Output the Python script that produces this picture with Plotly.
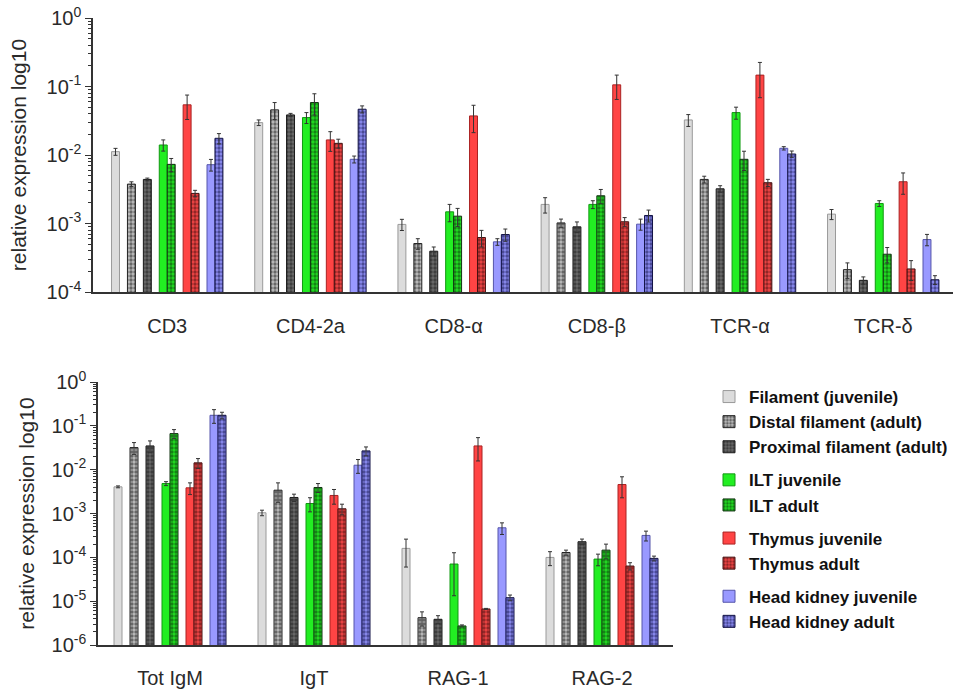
import plotly.graph_objects as go

# ---------------- data ----------------
top_genes = ["CD3", "CD4-2a", "CD8-α", "CD8-β", "TCR-α", "TCR-δ"]
bottom_genes = ["Tot IgM", "IgT", "RAG-1", "RAG-2"]

series_names = [
    "Filament (juvenile)", "Distal filament (adult)", "Proximal filament (adult)",
    "ILT juvenile", "ILT adult",
    "Thymus juvenile", "Thymus adult",
    "Head kidney juvenile", "Head kidney adult",
]
series_groups = ["fil", "fil", "fil", "ilt", "ilt", "thy", "thy", "hk", "hk"]

# top panel values (one list per series, in gene order)
top_filament_juv = [0.0112, 0.0297, 0.00097, 0.0019, 0.0325, 0.00137]
top_distal_adult = [0.00376, 0.0456, 0.00051, 0.00102, 0.0044, 0.000212]
top_proximal_adult = [0.0044, 0.0385, 0.000394, 0.000894, 0.00321, 0.000148]
top_ilt_juv = [0.014, 0.0352, 0.00148, 0.0019, 0.0416, 0.00196]
top_ilt_adult = [0.0073, 0.0583, 0.00128, 0.00254, 0.00865, 0.000356]
top_thymus_juv = [0.054, 0.0166, 0.0372, 0.1057, 0.1466, 0.00407]
top_thymus_adult = [0.00275, 0.0148, 0.000624, 0.00106, 0.00394, 0.000217]
top_hk_juv = [0.00722, 0.00865, 0.00054, 0.000978, 0.01253, 0.000583]
top_hk_adult = [0.01753, 0.0466, 0.00069, 0.00131, 0.01034, 0.000151]

top_filament_juv_err = [0.0013, 0.0028, 0.00018, 0.00048, 0.0064, 0.00023]
top_distal_adult_err = [0.0003, 0.0127, 0.00009, 0.00014, 0.0005, 0.000054]
top_proximal_adult_err = [0.0002, 0.002, 0.00006, 0.00016, 0.00035, 0.000018]
top_ilt_juv_err = [0.0026, 0.0064, 0.00042, 0.00025, 0.0083, 0.00019]
top_ilt_adult_err = [0.0016, 0.02, 0.00038, 0.0006, 0.0027, 0.00009]
top_thymus_juv_err = [0.021, 0.0053, 0.016, 0.041, 0.078, 0.0014]
top_thymus_adult_err = [0.0003, 0.0022, 0.00017, 0.00016, 0.00047, 0.00007]
top_hk_juv_err = [0.0014, 0.001, 0.00006, 0.00018, 0.0007, 0.00011]
top_hk_adult_err = [0.003, 0.0055, 0.00014, 0.00026, 0.0011, 0.000022]

# bottom panel values
bot_filament_juv = [0.00406, 0.00104, 0.00016, 9.96e-5]
bot_distal_adult = [0.0319, 0.0034, 4.2e-6, 1.29e-4]
bot_proximal_adult = [0.0348, 0.00232, 3.86e-6, 2.27e-4]
bot_ilt_juv = [0.00483, 0.00169, 7.03e-5, 9.12e-5]
bot_ilt_adult = [0.0665, 0.00392, 2.72e-6, 1.46e-4]
bot_thymus_juv = [0.00385, 0.00258, 0.0348, 0.00458]
bot_thymus_adult = [0.0143, 0.00128, 6.64e-6, 6.33e-5]
bot_hk_juv = [0.174, 0.01264, 4.72e-4, 3.16e-4]
bot_hk_adult = [0.174, 0.0268, 1.2e-5, 9.46e-5]

bot_filament_juv_err = [0.0002, 0.00015, 0.0001, 3.5e-5]
bot_distal_adult_err = [0.0096, 0.0016, 1.5e-6, 1.7e-5]
bot_proximal_adult_err = [0.0105, 0.00044, 0.8e-6, 3.4e-5]
bot_ilt_juv_err = [0.0005, 0.0006, 5.7e-5, 2.7e-5]
bot_ilt_adult_err = [0.0155, 0.0009, 0.15e-6, 5.4e-5]
bot_thymus_juv_err = [0.00115, 0.00095, 0.019, 0.0023]
bot_thymus_adult_err = [0.0036, 0.00035, 0.2e-6, 1.2e-5]
bot_hk_juv_err = [0.06, 0.0044, 1.4e-4, 8e-5]
bot_hk_adult_err = [0.03, 0.0062, 1.8e-6, 1.2e-5]

top_values = [top_filament_juv, top_distal_adult, top_proximal_adult, top_ilt_juv,
              top_ilt_adult, top_thymus_juv, top_thymus_adult, top_hk_juv, top_hk_adult]
top_errors = [top_filament_juv_err, top_distal_adult_err, top_proximal_adult_err,
              top_ilt_juv_err, top_ilt_adult_err, top_thymus_juv_err,
              top_thymus_adult_err, top_hk_juv_err, top_hk_adult_err]
bot_values = [bot_filament_juv, bot_distal_adult, bot_proximal_adult, bot_ilt_juv,
              bot_ilt_adult, bot_thymus_juv, bot_thymus_adult, bot_hk_juv, bot_hk_adult]
bot_errors = [bot_filament_juv_err, bot_distal_adult_err, bot_proximal_adult_err,
              bot_ilt_juv_err, bot_ilt_adult_err, bot_thymus_juv_err,
              bot_thymus_adult_err, bot_hk_juv_err, bot_hk_adult_err]

# ---------------- styling ----------------
SLOT = [0, 2, 4, 6, 7, 9, 10, 12, 13]   # bar slot within a gene group
GROUP_PERIOD = 18
PAT = dict(shape=".", size=4, solidity=0.55)
styles = [
    dict(color="#dcdcdc", line="#9a9a9a", fg=None),
    dict(color="#bdbdbd", line="#222222", fg="#111111"),
    dict(color="#6a6a6a", line="#1a1a1a", fg="#111111"),
    dict(color="#22ee22", line="#119911", fg=None),
    dict(color="#22dd22", line="#113311", fg="#0a260a"),
    dict(color="#ff4444", line="#aa2222", fg=None),
    dict(color="#ee4444", line="#441111", fg="#360808"),
    dict(color="#9999ff", line="#5555aa", fg=None),
    dict(color="#8a8af0", line="#111144", fg="#0a0a3c"),
]

FONT = "Liberation Sans, Arial, sans-serif"
TXT = "#2a2a2a"

fig = go.Figure()


def add_panel(values, errors, ngenes, xa, ya, show_legend):
    for i, name in enumerate(series_names):
        st = styles[i]
        xs = [g * GROUP_PERIOD + SLOT[i] for g in range(ngenes)]
        marker = dict(color=st["color"], line=dict(color=st["line"], width=1))
        if st["fg"] is not None:
            marker["pattern"] = dict(PAT, fgcolor=st["fg"], bgcolor=st["color"])
        fig.add_trace(go.Bar(
            x=xs, y=values[i], name=name, width=1,
            marker=marker,
            error_y=dict(type="data", array=errors[i], symmetric=True,
                         color="#333333", thickness=1, width=2),
            legendgroup=series_groups[i], showlegend=show_legend,
            xaxis=xa, yaxis=ya,
        ))


add_panel(top_values, top_errors, len(top_genes), "x", "y", True)
add_panel(bot_values, bot_errors, len(bottom_genes), "x2", "y2", False)

W, H = 974, 690
centre = (SLOT[0] + SLOT[-1]) / 2


def px_x(a, b):
    return [a / W, b / W]


def px_y(top, bottom):
    return [1 - bottom / H, 1 - top / H]


def yaxis_cfg(lo, dom, standoff, anchor):
    tv = [10 ** k for k in range(lo, 1)]
    tt = ["10<sup>%d</sup>" % k for k in range(lo, 1)]
    return dict(
        type="log", range=[lo, 0], domain=dom, anchor=anchor, automargin=False,
        tickmode="array", tickvals=tv, ticktext=tt, ticklabeloverflow="allow",
        ticks="outside", ticklen=6, tickwidth=1, tickcolor="#333333",
        minor=dict(dtick="D1", ticks="outside", ticklen=3, tickcolor="#333333", showgrid=False),
        showline=True, linecolor="#333333", linewidth=1.5,
        showgrid=False, zeroline=False,
        tickfont=dict(family=FONT, size=20, color=TXT),
        title=dict(text="relative expression log10", standoff=standoff,
                   font=dict(family=FONT, size=21, color=TXT)),
    )


def xaxis_cfg(genes, dom, rng, anchor, standoff):
    return dict(
        domain=dom, range=rng, anchor=anchor, automargin=False,
        tickmode="array", ticklabeloverflow="allow",
        tickvals=[g * GROUP_PERIOD + centre for g in range(len(genes))],
        ticktext=genes,
        ticks="outside", ticklen=standoff, tickcolor="rgba(0,0,0,0)",
        showline=True, linecolor="#333333", linewidth=1.5,
        showgrid=False, zeroline=False,
        tickfont=dict(family=FONT, size=20, color=TXT),
    )


fig.update_layout(
    width=W, height=H,
    margin=dict(l=0, r=0, t=0, b=0, autoexpand=False),
    paper_bgcolor="white", plot_bgcolor="white",
    barmode="overlay",
    xaxis=xaxis_cfg(top_genes, px_x(93, 953), [-2.83, 105.27], "y", 15),
    yaxis=yaxis_cfg(-4, px_y(18, 292), 14, "x"),
    xaxis2=xaxis_cfg(bottom_genes, px_x(98, 673), [-2.5, 69.375], "y2", 14),
    yaxis2=yaxis_cfg(-6, px_y(382, 645), 11, "x2"),
    legend=dict(
        x=709 / W, y=1 - 379 / H, xanchor="left", yanchor="top",
        traceorder="grouped", tracegroupgap=8,
        font=dict(family=FONT, size=17, color="#111111", weight="bold"),
        bgcolor="rgba(0,0,0,0)",
    ),
    showlegend=True,
)

fig.write_html("out.html", config={"displayModeBar": False},
               post_script="document.body.style.margin='0px';")
